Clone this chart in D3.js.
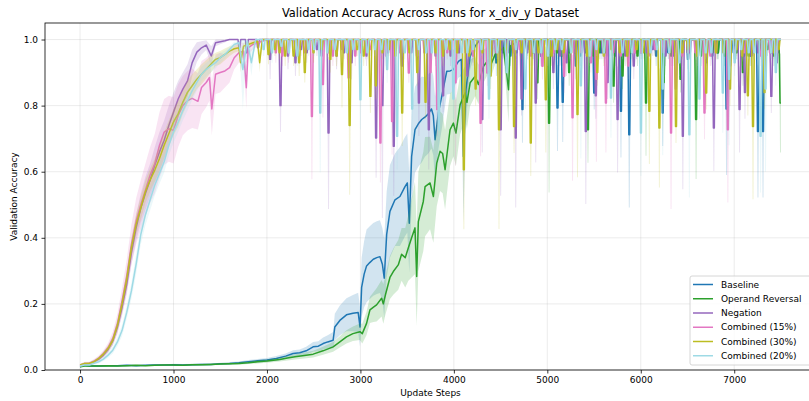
<!DOCTYPE html>
<html>
<head>
<meta charset="utf-8">
<script src="https://cdn.jsdelivr.net/npm/d3@7/dist/d3.min.js"></script>
<style>
  html, body { margin: 0; padding: 0; background: #fff; }
  svg { display: block; font-family: "DejaVu Sans", sans-serif; }
</style>
</head>
<body>
<svg id="chart" width="809" height="401"></svg>
<script>
// ---- data: [step, mean accuracy, std] ----------------------------------
const seriesNames = ["Baseline", "Operand Reversal", "Negation", "Combined (15%)", "Combined (30%)", "Combined (20%)"];
const seriesColors = ["#1f77b4", "#2ca02c", "#9467bd", "#e377c2", "#bcbd22", "#9edae5"];
const xTicks = [0, 1000, 2000, 3000, 4000, 5000, 6000, 7000];
const yTicks = [0.0, 0.2, 0.4, 0.6, 0.8, 1.0];
const maxStep = 7500;
const evalGap = 10; // steps between consecutive validation evaluations

const baselineRamp = [
  [0,0.010,0.002],[50,0.015,0.004],[100,0.012,0.003],[200,0.012,0.002],[300,0.013,0.002],[400,0.013,0.002],
  [500,0.014,0.002],[600,0.013,0.002],[700,0.014,0.002],[800,0.015,0.002],[900,0.015,0.002],[1000,0.016,0.003],
  [1100,0.015,0.003],[1200,0.016,0.003],[1300,0.017,0.003],[1400,0.017,0.003],[1500,0.019,0.003],[1600,0.020,0.004],
  [1700,0.022,0.004],[1800,0.025,0.005],[1900,0.028,0.005],[2000,0.030,0.006],[2100,0.035,0.007],[2200,0.042,0.008],
  [2280,0.050,0.010],[2350,0.052,0.010],[2420,0.058,0.012],[2494,0.070,0.015],[2550,0.072,0.015],[2601,0.080,0.018],
  [2650,0.085,0.020],[2708,0.090,0.025],[2726,0.130,0.040],[2780,0.150,0.045],[2851,0.167,0.050],[2920,0.172,0.055],
  [2976,0.174,0.060],[2996,0.130,0.060],[3013,0.250,0.090],[3040,0.290,0.100],[3066,0.315,0.110],[3100,0.325,0.110],
  [3138,0.335,0.110],[3175,0.340,0.110],[3209,0.343,0.110],[3235,0.320,0.110],[3255,0.278,0.120],[3281,0.410,0.130],
  [3316,0.480,0.140],[3370,0.515,0.140],[3423,0.525,0.150],[3477,0.555,0.150],[3502,0.566,0.150],[3523,0.444,0.150],
  [3548,0.646,0.140],[3584,0.727,0.130],[3620,0.745,0.130],[3656,0.758,0.130],[3690,0.765,0.120],[3727,0.775,0.120],
  [3760,0.790,0.120],[3780,0.770,0.120],[3799,0.697,0.130],[3834,0.778,0.110],[3870,0.828,0.100],[3924,0.904,0.070],
  [3960,0.905,0.070],[3995,0.909,0.060],[4049,0.934,0.050],[4080,0.940,0.050],[4102,0.646,0.200],[4130,0.850,0.100],
  [4174,0.949,0.040],[4228,0.980,0.020],[4280,1.000,0.000]
];
const baselineDips = [
  [4380,0.96,0.02],[4450,0.93,0.04],[4520,0.96,0.02],[4600,0.95,0.03],[4665,0.96,0.02],[4729,0.788,0.10],
  [4850,0.96,0.02],[4930,0.95,0.03],[5000,0.95,0.03],[5050,0.96,0.02],[5104,0.793,0.13],[5160,0.81,0.12],
  [5230,0.96,0.02],[5300,0.92,0.04],[5350,0.95,0.03],[5400,0.96,0.02],[5497,0.838,0.05],[5570,0.96,0.02],
  [5650,0.95,0.03],[5720,0.95,0.03],[5783,0.783,0.14],[5872,0.712,0.22],[5950,0.96,0.02],[6000,0.96,0.02],
  [6100,0.97,0.02],[6160,0.95,0.03],[6230,0.778,0.10],[6290,0.96,0.02],[6350,0.96,0.02],[6420,0.95,0.03],
  [6500,0.94,0.03],[6600,0.96,0.02],[6700,0.93,0.04],[6760,0.95,0.03],[6820,0.96,0.02],[6913,0.79,0.20],
  [6990,0.96,0.02],[7100,0.95,0.03],[7170,0.95,0.03],[7249,0.722,0.20],[7303,0.722,0.20],[7400,0.96,0.02],
  [7460,0.96,0.02]
];

const operandRamp = [
  [0,0.010,0.002],[50,0.012,0.003],[100,0.012,0.002],[200,0.012,0.002],[300,0.013,0.002],[400,0.012,0.002],
  [500,0.013,0.002],[600,0.014,0.002],[700,0.013,0.002],[800,0.014,0.002],[900,0.015,0.002],[1000,0.015,0.002],
  [1100,0.014,0.002],[1200,0.016,0.003],[1300,0.016,0.003],[1400,0.017,0.003],[1500,0.018,0.003],[1600,0.019,0.003],
  [1700,0.020,0.004],[1800,0.022,0.004],[1900,0.025,0.005],[2000,0.027,0.005],[2137,0.032,0.006],[2220,0.036,0.007],
  [2300,0.040,0.008],[2400,0.044,0.009],[2494,0.048,0.010],[2600,0.058,0.012],[2708,0.070,0.015],[2780,0.085,0.017],
  [2851,0.100,0.020],[2920,0.110,0.022],[2995,0.116,0.025],[3020,0.110,0.030],[3066,0.141,0.035],[3102,0.182,0.040],
  [3140,0.190,0.045],[3173,0.197,0.050],[3227,0.217,0.055],[3245,0.200,0.060],[3270,0.230,0.060],[3316,0.280,0.065],
  [3352,0.298,0.070],[3405,0.318,0.075],[3441,0.350,0.080],[3480,0.340,0.090],[3513,0.370,0.100],[3548,0.400,0.120],
  [3584,0.430,0.140],[3602,0.283,0.150],[3620,0.449,0.150],[3673,0.510,0.150],[3692,0.555,0.150],[3745,0.566,0.140],
  [3781,0.525,0.140],[3817,0.626,0.130],[3852,0.662,0.120],[3880,0.655,0.120],[3906,0.606,0.120],[3959,0.727,0.110],
  [3995,0.747,0.100],[4022,0.717,0.100],[4067,0.803,0.090],[4120,0.838,0.080],[4140,0.810,0.080],[4174,0.869,0.070],
  [4228,0.889,0.060],[4263,0.864,0.060],[4317,0.919,0.050],[4370,0.939,0.040],[4390,0.920,0.040],[4442,0.955,0.030],
  [4490,0.965,0.030],[4531,0.975,0.020],[4585,0.848,0.100],[4603,0.980,0.020],[4660,0.990,0.010],[4720,1.000,0.000]
];
const operandDips = [
  [4780,0.97,0.02],[4835,0.96,0.02],[4889,0.869,0.05],[4950,0.95,0.03],[5014,0.747,0.21],[5100,0.96,0.02],
  [5160,0.95,0.03],[5229,0.90,0.04],[5290,0.96,0.02],[5340,0.96,0.02],[5430,0.727,0.10],[5490,0.95,0.03],
  [5550,0.96,0.02],[5620,0.96,0.02],[5704,0.859,0.05],[5800,0.89,0.04],[5890,0.96,0.02],[5960,0.95,0.03],
  [6051,0.808,0.16],[6150,0.97,0.02],[6240,0.87,0.05],[6320,0.95,0.03],[6420,0.88,0.04],[6500,0.96,0.02],
  [6587,0.758,0.18],[6640,0.95,0.03],[6700,0.97,0.02],[6760,0.96,0.02],[6820,0.96,0.02],[6890,0.95,0.03],
  [6950,0.97,0.02],[7020,0.96,0.02],[7088,0.90,0.04],[7150,0.95,0.03],[7200,0.96,0.02],[7270,0.96,0.02],
  [7350,0.97,0.02],[7420,0.95,0.03],[7490,0.808,0.15]
];

const negationRamp = [
  [0,0.012,0.003],[50,0.018,0.004],[100,0.020,0.004],[150,0.025,0.005],[200,0.033,0.006],[250,0.045,0.008],
  [300,0.062,0.010],[350,0.088,0.013],[400,0.130,0.018],[450,0.190,0.025],[500,0.260,0.030],[550,0.355,0.035],
  [600,0.430,0.040],[650,0.490,0.045],[700,0.535,0.050],[750,0.575,0.050],[800,0.620,0.055],[850,0.660,0.060],
  [900,0.695,0.060],[950,0.740,0.060],[1000,0.780,0.060],[1050,0.820,0.055],[1100,0.850,0.050],[1150,0.875,0.050],
  [1200,0.930,0.040],[1250,0.962,0.030],[1300,0.975,0.020],[1350,0.983,0.015],[1404,0.950,0.030],[1450,0.990,0.010],
  [1500,0.993,0.007],[1550,0.996,0.005],[1600,1.000,0.000]
];
const negationDips = [
  [1700,0.975,0.02],[1780,0.96,0.03],[1900,0.975,0.02],[2029,0.94,0.06],[2140,0.80,0.08],[2220,0.95,0.04],
  [2300,0.93,0.04],[2360,0.97,0.02],[2420,0.96,0.03],[2530,0.97,0.02],[2580,0.95,0.03],[2654,0.717,0.23],
  [2740,0.95,0.04],[2820,0.96,0.02],[2900,0.93,0.05],[2990,0.97,0.02],[3060,0.95,0.03],[3163,0.702,0.12],
  [3230,0.80,0.34],[3290,0.96,0.02],[3352,0.677,0.15],[3440,0.92,0.05],[3540,0.96,0.03],[3621,0.808,0.10],
  [3727,0.727,0.12],[3800,0.95,0.03],[3880,0.83,0.05],[3960,0.95,0.03],[4050,0.96,0.02],[4140,0.89,0.05],
  [4200,0.96,0.03],[4299,0.758,0.10],[4400,0.95,0.03],[4496,0.727,0.20],[4570,0.96,0.02],[4657,0.702,0.21],
  [4720,0.82,0.05],[4780,0.96,0.02],[4871,0.808,0.18],[4930,0.95,0.03],[5060,0.90,0.05],[5130,0.95,0.03],
  [5200,0.93,0.04],[5300,0.96,0.02],[5407,0.722,0.22],[5514,0.83,0.07],[5590,0.96,0.02],[5640,0.87,0.05],
  [5747,0.758,0.16],[5830,0.95,0.03],[5920,0.92,0.04],[6000,0.97,0.02],[6060,0.96,0.02],[6123,0.97,0.02],
  [6260,0.95,0.03],[6350,0.95,0.03],[6445,0.707,0.16],[6520,0.96,0.02],[6600,0.95,0.03],[6700,0.95,0.03],
  [6777,0.732,0.13],[6880,0.96,0.02],[6950,0.92,0.04],[7052,0.788,0.13],[7110,0.84,0.08],[7180,0.95,0.03],
  [7250,0.96,0.02],[7320,0.96,0.02],[7392,0.828,0.05],[7450,0.93,0.03]
];

const combined15Ramp = [
  [0,0.015,0.004],[50,0.020,0.005],[100,0.020,0.005],[150,0.027,0.006],[200,0.036,0.008],[250,0.050,0.010],
  [300,0.068,0.014],[350,0.095,0.020],[400,0.140,0.030],[450,0.210,0.040],[500,0.285,0.050],[550,0.380,0.060],
  [600,0.450,0.070],[650,0.500,0.075],[700,0.545,0.080],[750,0.590,0.085],[800,0.625,0.090],[850,0.680,0.100],
  [900,0.720,0.100],[950,0.730,0.100],[1000,0.725,0.100],[1050,0.770,0.095],[1100,0.800,0.090],[1150,0.815,0.090],
  [1200,0.822,0.090],[1261,0.813,0.085],[1300,0.855,0.080],[1350,0.870,0.075],[1385,0.885,0.070],[1410,0.790,0.080],
  [1450,0.895,0.060],[1500,0.900,0.060],[1550,0.905,0.050],[1600,0.915,0.045],[1650,0.945,0.035],[1700,0.960,0.030],
  [1750,0.965,0.025],[1779,0.854,0.065],[1800,0.975,0.020],[1850,0.985,0.015],[1900,0.990,0.010],[1950,0.995,0.005],
  [2000,1.000,0.000]
];
const combined15Dips = [
  [2090,0.96,0.03],[2160,0.95,0.03],[2226,0.96,0.03],[2330,0.97,0.02],[2400,0.96,0.02],[2476,0.767,0.19],
  [2594,0.864,0.10],[2650,0.96,0.02],[2700,0.95,0.03],[2800,0.97,0.02],[2869,0.884,0.05],[2940,0.95,0.03],
  [3000,0.96,0.03],[3050,0.96,0.02],[3100,0.97,0.02],[3209,0.687,0.12],[3270,0.95,0.03],[3334,0.752,0.10],
  [3420,0.96,0.02],[3513,0.899,0.03],[3600,0.95,0.03],[3680,0.96,0.02],[3745,0.90,0.04],[3817,0.788,0.08],
  [3870,0.95,0.03],[3924,0.96,0.02],[4013,0.869,0.25],[4120,0.96,0.02],[4200,0.95,0.03],[4281,0.747,0.10],
  [4353,0.899,0.04],[4450,0.96,0.02],[4560,0.95,0.03],[4630,0.96,0.02],[4700,0.97,0.02],[4820,0.95,0.03],
  [4943,0.919,0.04],[5000,0.95,0.03],[5060,0.96,0.02],[5175,0.889,0.05],[5265,0.763,0.19],[5360,0.96,0.02],
  [5461,0.93,0.03],[5520,0.88,0.25],[5622,0.808,0.15],[5700,0.96,0.02],[5780,0.95,0.03],[5861,0.92,0.04],
  [5930,0.96,0.02],[6000,0.96,0.02],[6080,0.95,0.03],[6150,0.97,0.02],[6240,0.96,0.02],[6319,0.717,0.23],
  [6370,0.85,0.05],[6440,0.95,0.03],[6500,0.96,0.02],[6580,0.96,0.02],[6677,0.778,0.08],[6740,0.95,0.03],
  [6800,0.96,0.02],[6927,0.727,0.22],[7000,0.95,0.03],[7100,0.96,0.02],[7200,0.97,0.02],[7280,0.95,0.03],
  [7378,0.96,0.03],[7450,0.96,0.02]
];

const combined30Ramp = [
  [0,0.015,0.003],[50,0.020,0.004],[100,0.020,0.004],[150,0.025,0.005],[200,0.035,0.006],[250,0.048,0.008],
  [300,0.065,0.010],[350,0.090,0.013],[400,0.135,0.018],[450,0.200,0.022],[500,0.275,0.026],[550,0.370,0.030],
  [600,0.440,0.032],[650,0.490,0.035],[700,0.540,0.035],[750,0.575,0.035],[800,0.605,0.035],[850,0.640,0.040],
  [900,0.680,0.040],[950,0.715,0.040],[1000,0.750,0.040],[1050,0.775,0.040],[1100,0.810,0.035],[1150,0.840,0.035],
  [1200,0.860,0.035],[1250,0.880,0.030],[1300,0.895,0.030],[1350,0.910,0.028],[1400,0.925,0.025],[1450,0.940,0.020],
  [1500,0.945,0.020],[1550,0.955,0.018],[1600,0.965,0.015],[1650,0.972,0.012],[1700,0.975,0.010],[1718,0.930,0.030],
  [1750,0.980,0.010],[1800,0.985,0.008],[1850,0.990,0.006],[1900,0.995,0.004],[1922,0.930,0.030],[1950,1.000,0.000]
];
const combined30Dips = [
  [2011,0.955,0.03],[2080,0.97,0.02],[2130,0.96,0.02],[2190,0.95,0.03],[2280,0.95,0.03],[2340,0.93,0.04],
  [2400,0.90,0.03],[2494,0.96,0.03],[2580,0.97,0.02],[2673,0.94,0.04],[2740,0.95,0.03],[2798,0.894,0.10],
  [2880,0.74,0.21],[2960,0.97,0.02],[3030,0.95,0.03],[3102,0.828,0.05],[3160,0.86,0.04],[3230,0.96,0.02],
  [3300,0.97,0.02],[3370,0.95,0.03],[3442,0.778,0.10],[3520,0.96,0.02],[3603,0.90,0.04],[3692,0.81,0.05],
  [3800,0.96,0.02],[3880,0.95,0.03],[3950,0.97,0.02],[4030,0.96,0.02],[4102,0.606,0.18],[4160,0.95,0.03],
  [4228,0.85,0.05],[4300,0.96,0.02],[4388,0.89,0.04],[4478,0.727,0.30],[4560,0.97,0.02],[4639,0.737,0.08],
  [4720,0.96,0.02],[4818,0.687,0.10],[4900,0.96,0.02],[4979,0.818,0.16],[5040,0.95,0.03],[5100,0.97,0.02],
  [5170,0.96,0.02],[5250,0.96,0.02],[5318,0.773,0.19],[5420,0.95,0.03],[5530,0.90,0.04],[5600,0.95,0.03],
  [5680,0.97,0.02],[5770,0.96,0.02],[5850,0.95,0.03],[5950,0.97,0.02],[6020,0.96,0.02],[6087,0.783,0.16],
  [6194,0.732,0.18],[6300,0.96,0.02],[6372,0.737,0.05],[6440,0.96,0.02],[6500,0.97,0.02],[6600,0.95,0.03],
  [6695,0.838,0.05],[6800,0.96,0.02],[6880,0.96,0.02],[6950,0.85,0.05],[7020,0.97,0.02],[7080,0.95,0.03],
  [7141,0.83,0.06],[7196,0.737,0.22],[7320,0.84,0.05],[7420,0.96,0.02],[7470,0.97,0.02]
];

const combined20Ramp = [
  [0,0.012,0.003],[50,0.015,0.003],[100,0.015,0.003],[150,0.020,0.004],[200,0.025,0.005],[250,0.033,0.006],
  [300,0.045,0.008],[350,0.060,0.010],[400,0.085,0.013],[450,0.120,0.017],[500,0.175,0.020],[550,0.240,0.025],
  [600,0.320,0.030],[650,0.410,0.030],[700,0.470,0.032],[750,0.515,0.032],[800,0.560,0.032],[850,0.595,0.032],
  [900,0.630,0.032],[950,0.680,0.032],[1000,0.720,0.032],[1050,0.750,0.030],[1100,0.785,0.030],[1150,0.815,0.030],
  [1200,0.845,0.028],[1250,0.870,0.025],[1300,0.895,0.022],[1350,0.910,0.020],[1400,0.920,0.020],[1450,0.930,0.018],
  [1500,0.945,0.015],[1550,0.955,0.012],[1600,0.970,0.010],[1650,0.985,0.008],[1700,0.990,0.005],[1742,0.909,0.120],
  [1790,0.995,0.004],[1833,0.930,0.040],[1880,1.000,0.000]
];
const combined20Dips = [
  [1960,0.97,0.02],[2050,0.96,0.03],[2150,0.98,0.01],[2230,0.96,0.02],[2320,0.95,0.03],[2440,0.97,0.02],
  [2500,0.97,0.02],[2565,0.778,0.18],[2640,0.96,0.02],[2720,0.97,0.02],[2850,0.96,0.02],[2920,0.97,0.02],
  [2995,0.818,0.09],[3070,0.96,0.02],[3150,0.97,0.02],[3220,0.97,0.02],[3281,0.909,0.04],[3388,0.707,0.10],
  [3470,0.96,0.02],[3549,0.79,0.08],[3620,0.97,0.02],[3700,0.96,0.02],[3760,0.96,0.02],[3834,0.727,0.10],
  [3910,0.97,0.02],[3990,0.82,0.06],[4080,0.96,0.02],[4140,0.96,0.02],[4200,0.97,0.02],[4290,0.97,0.02],
  [4371,0.82,0.06],[4460,0.96,0.02],[4560,0.90,0.04],[4660,0.97,0.02],[4760,0.85,0.06],[4850,0.96,0.02],
  [4930,0.96,0.02],[5000,0.95,0.03],[5080,0.97,0.02],[5150,0.97,0.02],[5250,0.96,0.02],[5354,0.86,0.22],
  [5450,0.95,0.03],[5520,0.97,0.02],[5600,0.96,0.03],[5676,0.823,0.12],[5800,0.96,0.02],[5900,0.96,0.02],
  [5997,0.717,0.13],[6100,0.96,0.02],[6170,0.97,0.02],[6230,0.85,0.20],[6300,0.96,0.02],[6408,0.93,0.04],
  [6515,0.712,0.19],[6623,0.82,0.06],[6690,0.96,0.02],[6750,0.96,0.02],[6873,0.838,0.12],[6940,0.88,0.20],
  [7000,0.93,0.04],[7070,0.97,0.02],[7150,0.96,0.02],[7210,0.96,0.02],[7277,0.707,0.17],[7330,0.85,0.25],
  [7390,0.96,0.02],[7440,0.90,0.04]
];

const seriesRamps = [baselineRamp, operandRamp, negationRamp, combined15Ramp, combined30Ramp, combined20Ramp];
const seriesDips = [baselineDips, operandDips, negationDips, combined15Dips, combined30Dips, combined20Dips];

// ---- assemble each run: learning curve, then the 1.0 plateau where each
// listed drop holds for two consecutive evaluations before recovering ----
function buildSeries(ramp, dips) {
  const pts = ramp.map(d => ({ step: d[0], mean: d[1], sd: d[2] }));
  dips.forEach(([s, m, sd]) => {
    pts.push({ step: s - evalGap, mean: 1, sd: 0 });
    pts.push({ step: s, mean: m, sd: sd });
    if (s + evalGap <= maxStep) pts.push({ step: s + evalGap, mean: m, sd: sd });
    if (s + 2 * evalGap <= maxStep) pts.push({ step: s + 2 * evalGap, mean: 1, sd: 0 });
  });
  if (!pts.some(p => p.step >= maxStep)) pts.push({ step: maxStep, mean: 1, sd: 0 });
  pts.sort((a, b) => a.step - b.step);
  return pts;
}
const series = seriesNames.map((name, i) => ({
  name, color: seriesColors[i], values: buildSeries(seriesRamps[i], seriesDips[i])
}));

// ---- layout ----
const svg = d3.select("#chart");
const plot = { left: 45, right: 816, top: 23, bottom: 370 };
const x = d3.scaleLinear().domain([-375, 7875]).range([plot.left, plot.right]);
const y = d3.scaleLinear().domain([0, 1.05]).range([plot.bottom, plot.top]);

svg.append("defs").append("clipPath").attr("id", "plotClip")
  .append("rect").attr("x", plot.left).attr("y", plot.top)
  .attr("width", plot.right - plot.left).attr("height", plot.bottom - plot.top);

// grid
const grid = svg.append("g").attr("stroke", "#b0b0b0").attr("stroke-opacity", 0.3).attr("stroke-width", 0.8);
xTicks.forEach(t => grid.append("line").attr("x1", x(t)).attr("x2", x(t)).attr("y1", plot.top).attr("y2", plot.bottom));
yTicks.forEach(t => grid.append("line").attr("x1", plot.left).attr("x2", plot.right).attr("y1", y(t)).attr("y2", y(t)));

// bands and lines
const marks = svg.append("g").attr("clip-path", "url(#plotClip)");
const area = d3.area()
  .x(d => x(d.step))
  .y0(d => y(Math.max(0, d.mean - d.sd)))
  .y1(d => y(Math.min(1, d.mean + d.sd)));
const line = d3.line().x(d => x(d.step)).y(d => y(d.mean));
series.forEach(s => {
  marks.append("path").datum(s.values).attr("d", area)
    .attr("fill", s.color).attr("fill-opacity", 0.2).attr("stroke", "none");
  marks.append("path").datum(s.values).attr("d", line)
    .attr("fill", "none").attr("stroke", s.color).attr("stroke-width", 1.5)
    .attr("stroke-linejoin", "round").attr("stroke-linecap", "butt");
});

// axes
const xAxis = d3.axisBottom(x).tickValues(xTicks).tickFormat(d3.format("d")).tickSize(3.5).tickPadding(3.5);
const yAxis = d3.axisLeft(y).tickValues(yTicks).tickFormat(d3.format(".1f")).tickSize(3.5).tickPadding(3.5);
const gx = svg.append("g").attr("transform", `translate(0,${plot.bottom})`).call(xAxis);
const gy = svg.append("g").attr("transform", `translate(${plot.left},0)`).call(yAxis);
[gx, gy].forEach(g => {
  g.select(".domain").remove();
  g.selectAll(".tick line").attr("stroke", "#000").attr("stroke-width", 0.8);
  g.selectAll(".tick text").attr("fill", "#000").style("font-size", "9px").style("font-family", "DejaVu Sans, sans-serif");
});

// frame
svg.append("rect").attr("x", plot.left).attr("y", plot.top)
  .attr("width", plot.right - plot.left).attr("height", plot.bottom - plot.top)
  .attr("fill", "none").attr("stroke", "#000").attr("stroke-width", 0.8);

// titles
svg.append("text").attr("x", (plot.left + plot.right) / 2).attr("y", 17)
  .attr("text-anchor", "middle").style("font-size", "11.4px").text("Validation Accuracy Across Runs for x_div_y Dataset");
svg.append("text").attr("x", (plot.left + plot.right) / 2).attr("y", 396)
  .attr("text-anchor", "middle").style("font-size", "9px").text("Update Steps");
svg.append("text").attr("transform", `translate(17,${(plot.top + plot.bottom) / 2}) rotate(-90)`)
  .attr("text-anchor", "middle").style("font-size", "9px").text("Validation Accuracy");

// legend
const lg = svg.append("g");
lg.append("rect").attr("x", 690).attr("y", 276).attr("width", 121).attr("height", 89)
  .attr("rx", 2).attr("fill", "#fff").attr("fill-opacity", 0.8).attr("stroke", "#cccccc").attr("stroke-width", 0.8);
series.forEach((s, i) => {
  const yy = 284.5 + i * 14.25;
  lg.append("line").attr("x1", 693).attr("x2", 713).attr("y1", yy).attr("y2", yy)
    .attr("stroke", s.color).attr("stroke-width", 1.5);
  lg.append("text").attr("x", 721).attr("y", yy + 3.2).style("font-size", "9px").text(s.name);
});
</script>
</body>
</html>
